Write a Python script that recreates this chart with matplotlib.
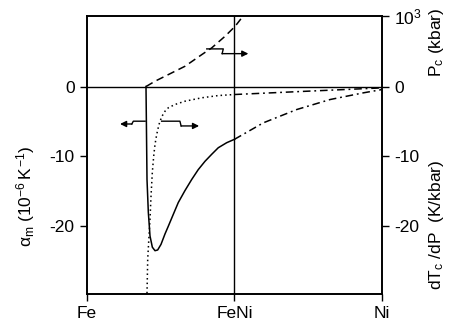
import matplotlib
matplotlib.use("Agg")
import matplotlib.pyplot as plt

plt.rcParams['font.family'] = ['Liberation Sans', 'DejaVu Sans']
plt.rcParams['mathtext.fontset'] = 'custom'
plt.rcParams['mathtext.rm'] = 'Liberation Sans'
plt.rcParams['mathtext.it'] = 'Liberation Sans'
plt.rcParams['mathtext.bf'] = 'Liberation Sans'
plt.rcParams['axes.unicode_minus'] = False

# composition axis: 0 = Fe, 0.5 = FeNi, 1 = Ni
x_ticks = [0.0, 0.5, 1.0]
x_labels = ['Fe', 'FeNi', 'Ni']
y_left_ticks = [0, -10, -20]
y_left_labels = ['0', '-10', '-20']
y_right_ticks = [10.1, 0, -10, -20]
y_right_labels = [r'$10^3$', '0', '-10', '-20']

# thermal expansion alpha_m (solid)
alpha_x = [0.200, 0.2034, 0.2079, 0.2136, 0.2215, 0.2305, 0.2395, 0.2508,
           0.2644, 0.2756, 0.2925, 0.3095, 0.332, 0.355, 0.377, 0.400,
           0.4227, 0.445, 0.4735, 0.500]
alpha_y = [0.0, -13.3, -18.0, -21.4, -23.0, -23.5, -23.4, -22.6,
           -21.1, -20.0, -18.3, -16.6, -14.9, -13.3, -11.9, -10.7,
           -9.7, -8.76, -8.04, -7.55]
# extrapolation (dash-dot) FeNi -> Ni
alpha_ext_x = [0.500, 0.598, 0.711, 0.824, 0.937, 1.000]
alpha_ext_y = [-7.55, -5.19, -3.29, -1.86, -0.90, -0.43]

# dTc/dP (dotted)
dtdp_x = [0.2034, 0.2058, 0.2102, 0.2136, 0.217, 0.2214, 0.2261, 0.2305,
          0.2363, 0.244, 0.2532, 0.2644, 0.2756, 0.2983, 0.332, 0.389,
          0.445, 0.500]
dtdp_y = [-29.6, -24.7, -21.4, -19.0, -15.7, -12.3, -9.96, -8.29,
          -6.86, -5.43, -4.33, -3.53, -3.04, -2.57, -2.10, -1.61,
          -1.29, -1.14]
dtdp_ext_x = [0.500, 0.745, 1.000]
dtdp_ext_y = [-1.14, -0.67, -0.19]

# Pc (dashed)
pc_x = [0.200, 0.2305, 0.2756, 0.332, 0.389, 0.4226, 0.468, 0.502, 0.524, 0.535]
pc_y = [0.0, 0.76, 1.71, 2.90, 4.57, 5.53, 7.20, 8.62, 9.81, 10.5]

fig = plt.figure(figsize=(4.51, 3.22), dpi=100)
ax = fig.add_axes([87/451, 1 - 294/322, 295/451, 278/322])
ax.set_xlim(0, 1)
ax.set_ylim(-29.7, 10.1)

lw = 1.1
ax.axhline(0, color='black', lw=1.0)
ax.axvline(0.5, color='black', lw=1.0)

ax.plot(alpha_x, alpha_y, color='black', lw=lw, solid_joinstyle='round')
ax.plot(alpha_ext_x, alpha_ext_y, color='black', lw=lw, dashes=(5, 2.5, 1.2, 2.5))
ax.plot(dtdp_x, dtdp_y, color='black', lw=lw, dashes=(1.0, 2.0))
ax.plot(dtdp_ext_x, dtdp_ext_y, color='black', lw=lw, dashes=(5, 2.5, 1.2, 2.5))
ax.plot(pc_x, pc_y, color='black', lw=lw, dashes=(5, 3))

# zig-zag arrows
def zig_arrow(p0, p1, p2, p3):
    ax.plot([p0[0], p1[0], p2[0]], [p0[1], p1[1], p2[1]], color='black', lw=1.0)
    ax.annotate('', xy=p3, xytext=p2,
                arrowprops=dict(arrowstyle='-|>', color='black', lw=1.0,
                                mutation_scale=9, shrinkA=0, shrinkB=0))

zig_arrow((0.406, 5.39), (0.462, 5.39), (0.458, 4.71), (0.547, 4.71))
zig_arrow((0.197, -4.96), (0.157, -4.96), (0.152, -5.36), (0.112, -5.36))
zig_arrow((0.253, -4.96), (0.315, -4.96), (0.319, -5.64), (0.380, -5.64))

fs = 12.5
ax.set_xticks(x_ticks)
ax.set_xticklabels(x_labels, fontsize=fs)
ax.set_yticks(y_left_ticks)
ax.set_yticklabels(y_left_labels, fontsize=fs)
ax.tick_params(axis='both', direction='out', length=5, width=1.0, pad=4)

ax2 = ax.twinx()
ax2.set_ylim(ax.get_ylim())
ax2.set_yticks(y_right_ticks)
ax2.set_yticklabels(y_right_labels, fontsize=fs)
ax2.tick_params(axis='y', direction='out', length=5, width=1.0, pad=4)

for a in (ax, ax2):
    for s in a.spines.values():
        s.set_linewidth(1.2)

ax.text(-0.21, 0.35, r'$\alpha_m\ (10^{-6}\,K^{-1})$', transform=ax.transAxes,
        rotation=90, ha='center', va='center', fontsize=fs)
ax2.text(1.185, 0.905, 'P$_c$ (kbar)', transform=ax.transAxes,
         rotation=90, ha='center', va='center', fontsize=fs)
ax2.text(1.185, 0.25, 'dT$_c$ /dP  (K/kbar)', transform=ax.transAxes,
         rotation=90, ha='center', va='center', fontsize=fs)

fig.savefig('out.png', dpi=100)
